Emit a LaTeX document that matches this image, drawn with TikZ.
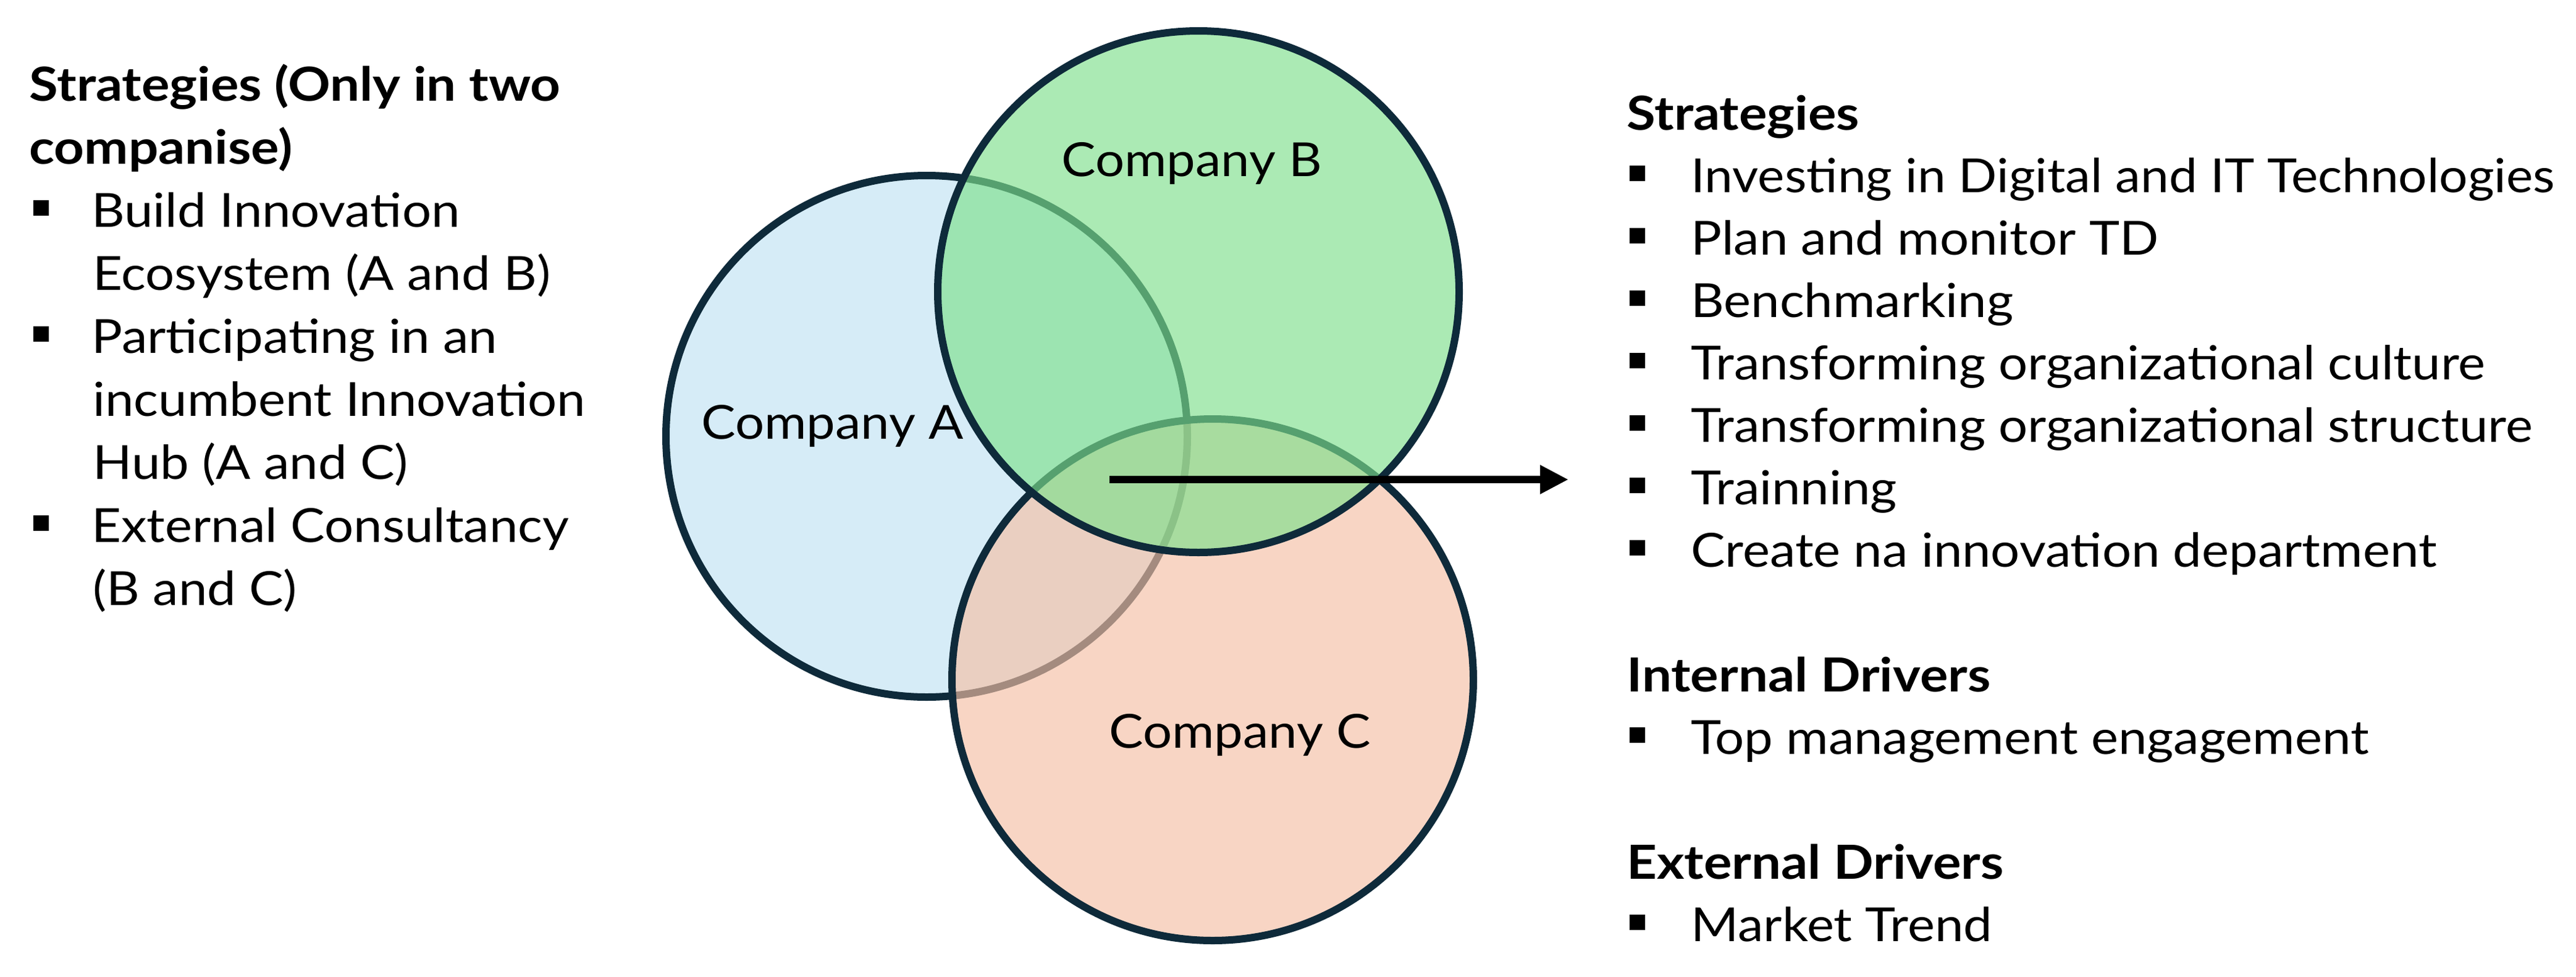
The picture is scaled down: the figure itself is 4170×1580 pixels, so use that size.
\documentclass[tikz,border=0pt]{standalone}
\usepackage{fontspec}
\setmainfont{Lato}[FakeStretch=1.095]
\newfontfamily\hdfont{Lato}[FakeStretch=1.12]
\usetikzlibrary{arrows.meta}
\definecolor{navy}{RGB}{14,42,58}
\definecolor{cA}{RGB}{214,236,247}
\definecolor{cB}{RGB}{126,224,140}
\definecolor{cC}{RGB}{245,192,165}
\newcommand\sqb{\rule[9pt]{12.5pt}{12.5pt}\hspace{37pt}}
\newcommand\sqbl{\rule[9pt]{12.5pt}{12.5pt}\hspace{34.5pt}}
\begin{document}
\begin{tikzpicture}[x=0.5pt,y=-0.5pt,
  venn/.style={circle, draw=navy, line width=6pt, minimum size=422pt, inner sep=0pt, fill opacity=0.65},
  lbl/.style={font=\fontsize{38}{46}\selectfont, inner sep=0pt, anchor=base west},
  head/.style={lbl, font=\fontsize{38}{46}\selectfont\hdfont\bfseries},
  arr/.style={line width=6pt, -{Triangle[length=23pt,width=22pt]}}]
\fill[white] (0,0) rectangle (4170,1580);
\useasboundingbox (0,0) rectangle (4170,1580);
% circles
\node[venn, fill=cA, fill opacity=1] (A) at (1500,706) {};
\node[venn, fill=cC] (C) at (1963,1100) {};
\node[venn, fill=cB] (B) at (1940,472) {};
\node[lbl] (la) at (1135,710) {Company A};
\node[lbl] (lb) at (1718,285) {Company B};
\node[lbl] (lc) at (1795,1210) {Company C};
% arrow
\coordinate (arrS) at (1796,776);
\coordinate (arrE) at (2539,776);
\draw[arr] (arrS) -- (arrE);
% left list
\node[head] (l0) at (47,163) {Strategies (Only in two};
\node[head] (l0b) at (47,265) {companise)};
\node[lbl] (l1) at (54,367) {\sqbl Build Innovation};
\node[lbl] (l1b) at (150,469) {Ecosystem (A and B)};
\node[lbl] (l2) at (54,571) {\sqbl Participating in an};
\node[lbl] (l2b) at (150,673) {incumbent Innovation};
\node[lbl] (l2c) at (150,775) {Hub (A and C)};
\node[lbl] (l3) at (54,877) {\sqbl External Consultancy};
\node[lbl] (l3b) at (150,979) {(B and C)};
% right list
\node[head] (s1) at (2633,210) {Strategies};
\node[lbl] (r1) at (2638,311) {\sqb\scalebox{0.985}[1]{Investing in Digital and IT Technologies}};
\node[lbl] (r2) at (2638,412) {\sqb Plan and monitor TD};
\node[lbl] (r3) at (2638,513) {\sqb Benchmarking};
\node[lbl] (r4) at (2638,614) {\sqb Transforming organizational culture};
\node[lbl] (r5) at (2638,715) {\sqb Transforming organizational structure};
\node[lbl] (r6) at (2638,816) {\sqb Trainning};
\node[lbl] (r7) at (2638,917) {\sqb Create na innovation department};
\node[head] (s2) at (2633,1119) {Internal Drivers};
\node[lbl] (r8) at (2638,1220) {\sqb Top management engagement};
\node[head] (s3) at (2633,1422) {External Drivers};
\node[lbl] (r9) at (2638,1523) {\sqb Market Trend};
\end{tikzpicture}
\end{document}
